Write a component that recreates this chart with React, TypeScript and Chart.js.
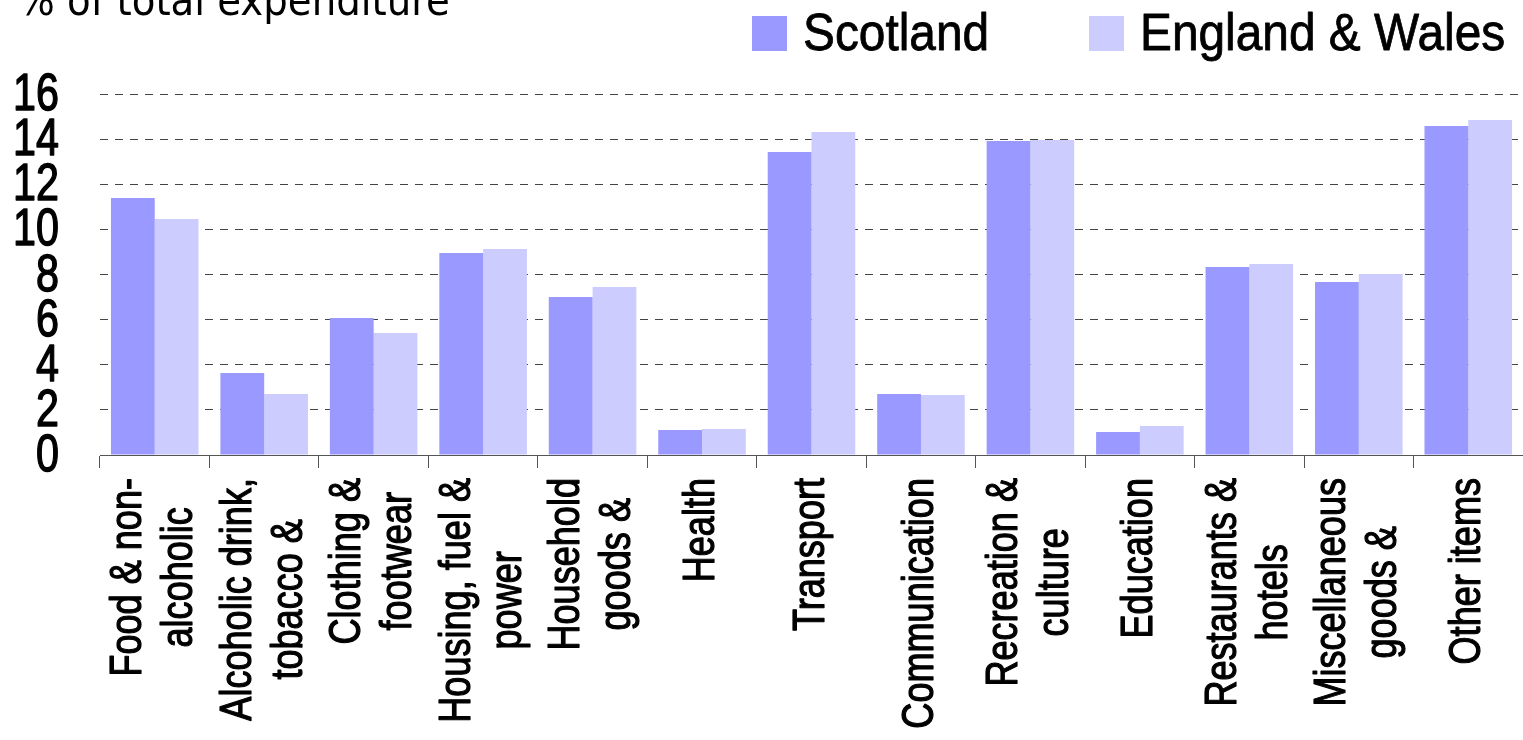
import React, { useEffect, useRef } from 'react';
import { Chart, registerables } from 'chart.js';

Chart.register(...registerables);

const categories: string[][] = [
  ['Food & non-', 'alcoholic'],
  ['Alcoholic drink,', 'tobacco &'],
  ['Clothing &', 'footwear'],
  ['Housing, fuel &', 'power'],
  ['Household', 'goods &'],
  ['Health'],
  ['Transport'],
  ['Communication'],
  ['Recreation &', 'culture'],
  ['Education'],
  ['Restaurants &', 'hotels'],
  ['Miscellaneous', 'goods &'],
  ['Other items'],
];

const scotland = [11.39, 3.63, 6.07, 8.95, 7.0, 1.11, 13.43, 2.7, 13.92, 1.02, 8.33, 7.67, 14.58];
const englandWales = [10.46, 2.7, 5.41, 9.13, 7.45, 1.15, 14.32, 2.66, 13.96, 1.29, 8.47, 8.02, 14.85];

const seriesNames = ['Scotland', 'England & Wales'];
const seriesColors = ['#9999FF', '#CCCCFF'];
const yTickValues = [0, 2, 4, 6, 8, 10, 12, 14, 16];
const titleText = '% of total expenditure';

const SANS = "'Liberation Sans', Arimo, Arial, sans-serif";

function drawText(
  ctx: CanvasRenderingContext2D,
  text: string,
  x: number,
  y: number,
  size: number,
  sx: number,
  align: CanvasTextAlign,
  baseline: CanvasTextBaseline,
  angle = 0,
  weight = 1
) {
  ctx.save();
  ctx.translate(x, y);
  if (angle) ctx.rotate(angle);
  ctx.scale(sx, 1);
  ctx.font = `${size}px ${SANS}`;
  ctx.fillStyle = '#000';
  ctx.strokeStyle = '#000';
  ctx.lineJoin = 'round';
  ctx.lineWidth = weight;
  ctx.textAlign = align;
  ctx.textBaseline = baseline;
  ctx.fillText(text, 0, 0);
  if (weight > 0) ctx.strokeText(text, 0, 0);
  ctx.restore();
}

const overlayPlugin = {
  id: 'overlay',
  afterDraw(chart: any) {
    const ctx = chart.ctx as CanvasRenderingContext2D;
    const xScale = chart.scales.x;
    const yScale = chart.scales.y;

    // Title (partly cut at the top)
    ctx.save();
    ctx.fillStyle = '#000';
    ctx.font = "43px 'DejaVu Sans Condensed', 'DejaVu Sans', sans-serif";
    ctx.textAlign = 'left';
    ctx.textBaseline = 'alphabetic';
    ctx.fillText(titleText, 18, 15);
    ctx.restore();

    // Legend
    const legendItems = [
      { box: 752, text: 803 },
      { box: 1089, text: 1140 },
    ];
    legendItems.forEach((it, i) => {
      ctx.save();
      ctx.fillStyle = seriesColors[i];
      ctx.fillRect(it.box, 16, 35, 35);
      ctx.restore();
      drawText(ctx, seriesNames[i], it.text, 50, 52, 0.92, 'left', 'alphabetic', 0, 0.8);
    });

    // Y tick labels
    yTickValues.forEach((v) => {
      const y = yScale.getPixelForValue(v);
      drawText(ctx, String(v), 59, y + 2, 51, 0.81, 'right', 'middle', 0, 1.4);
    });

    // Category labels, rotated, lines centred within block
    const labelSize = 44;
    const labelSx = 0.82;
    const lineH = 51;
    const topY = 478;
    ctx.save();
    ctx.font = `${labelSize}px ${SANS}`;
    const widths = categories.map((lines) => lines.map((l) => ctx.measureText(l).width * labelSx));
    ctx.restore();
    categories.forEach((lines, i) => {
      const cx = xScale.getPixelForValue(i);
      const maxW = Math.max(...widths[i]);
      lines.forEach((line, j) => {
        const lx = cx + (j - (lines.length - 1) / 2) * lineH;
        drawText(ctx, line, lx, topY + maxW / 2, labelSize, labelSx, 'center', 'middle', -Math.PI / 2, 1.2);
      });
    });
  },
};

export default function App() {
  const canvasRef = useRef<HTMLCanvasElement | null>(null);

  useEffect(() => {
    if (!canvasRef.current) return;
    const chart = new Chart(canvasRef.current, {
      type: 'bar',
      data: {
        labels: categories,
        datasets: [
          {
            label: seriesNames[0],
            data: scotland,
            backgroundColor: seriesColors[0],
            borderWidth: 0,
            categoryPercentage: 0.8,
            barPercentage: 1.0,
          },
          {
            label: seriesNames[1],
            data: englandWales,
            backgroundColor: seriesColors[1],
            borderWidth: 0,
            categoryPercentage: 0.8,
            barPercentage: 1.0,
          },
        ],
      },
      options: {
        animation: false,
        responsive: true,
        maintainAspectRatio: false,
        layout: { padding: { top: 94, left: 0, right: 0, bottom: 0 } },
        plugins: {
          legend: { display: false },
          tooltip: { enabled: false },
          title: { display: false },
        },
        scales: {
          x: {
            offset: true,
            ticks: { display: false },
            grid: {
              display: true,
              offset: true,
              drawOnChartArea: false,
              drawTicks: true,
              tickLength: 13,
              color: '#555',
              tickColor: '#555',
              lineWidth: 1,
            },
            border: { display: true, color: '#555', width: 1 },
            afterFit: (scale: any) => {
              scale.height = 285;
            },
          },
          y: {
            min: 0,
            max: 16,
            afterBuildTicks: (scale: any) => {
              scale.ticks = yTickValues.map((v) => ({ value: v }));
            },
            ticks: { display: false, autoSkip: false },
            grid: {
              drawTicks: false,
              color: (c: any) => (c.tick && c.tick.value === 0 ? 'rgba(0,0,0,0)' : '#444'),
              lineWidth: 1,
            },
            border: { display: false, dash: [8, 7] },
            afterFit: (scale: any) => {
              scale.width = 100;
            },
          },
        },
      },
      plugins: [overlayPlugin],
    });
    return () => chart.destroy();
  }, []);

  return (
    <div style={{ position: 'fixed', left: 0, top: 0, width: 1523, height: 740 }}>
      <canvas ref={canvasRef} />
    </div>
  );
}
